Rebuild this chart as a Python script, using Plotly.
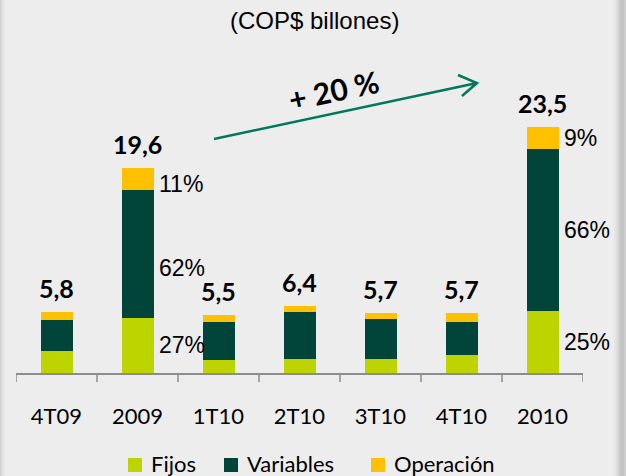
import plotly.graph_objects as go

categories = ["4T09", "2009", "1T10", "2T10", "3T10", "4T10", "2010"]
fijos = [2.1, 5.3, 1.2, 1.3, 1.3, 1.7, 5.9]
variables = [3.0, 12.2, 3.7, 4.5, 3.9, 3.2, 15.5]
operacion = [0.7, 2.1, 0.6, 0.6, 0.5, 0.8, 2.1]
totals = ["5,8", "19,6", "5,5", "6,4", "5,7", "5,7", "23,5"]
pct_labels = {"2009": ["27%", "62%", "11%"], "2010": ["25%", "66%", "9%"]}
series_names = ["Fijos", "Variables", "Operación"]

# layout-only tweaks
pct_yshift = {"2009": [0, -14, -5], "2010": [0, 0, 0]}
legend_x_px = [128, 224, 371]

C_FIJ = "#bdd400"
C_VAR = "#00443a"
C_OPE = "#ffc000"
colors = [C_FIJ, C_VAR, C_OPE]
BG = "#ededed"

W, H = 626, 476
L, R, T, B = 16, 43, 80, 103
PW, PH = W - L - R, H - T - B

def px(x):
    return (x - L) / PW

def py(y):
    return (H - B - y) / PH

fig = go.Figure()
for name, vals, col in zip(series_names, [fijos, variables, operacion], colors):
    fig.add_trace(go.Bar(x=list(range(len(categories))), y=vals, name=name,
                         marker=dict(color=col, line=dict(width=0)),
                         width=0.395, hoverinfo="skip", showlegend=False))

ann = []
for i, c in enumerate(categories):
    tot = fijos[i] + variables[i] + operacion[i]
    ann.append(dict(x=i, y=tot, text="<b>%s</b>" % totals[i], showarrow=False, yanchor="bottom", yshift=7,
                    font=dict(family="Lato", size=25, color="black")))
    if c in pct_labels:
        segs = [fijos[i], variables[i], operacion[i]]
        base = 0
        for s, lab, ys in zip(segs, pct_labels[c], pct_yshift[c]):
            ann.append(dict(x=i, y=base + s / 2, text=lab, showarrow=False, xanchor="left", xshift=19,
                            yshift=ys, font=dict(family="Liberation Sans", size=23, color="black")))
            base += s

ann.append(dict(xref="paper", yref="paper", x=px(314), y=py(21), yanchor="middle", text="(COP$ billones)",
                showarrow=False, font=dict(family="Liberation Sans", size=24, color="black")))
ann.append(dict(xref="paper", yref="paper", x=px(333), y=py(90), yanchor="middle", text="<b>+ 20 %</b>",
                showarrow=False, textangle=-12, font=dict(family="Lato", size=30, color="black")))

shapes = []
arrow_col = "#00785a"
shapes.append(dict(type="path", xref="paper", yref="paper",
                   path="M %f %f L %f %f M %f %f L %f %f L %f %f" % (
                       px(214), py(139), px(477), py(83),
                       px(458), py(75), px(477), py(83), px(462), py(96)),
                   line=dict(color=arrow_col, width=2.5)))

# manual legend
for name, col, lx in zip(series_names, colors, legend_x_px):
    shapes.append(dict(type="rect", xref="paper", yref="paper", x0=px(lx), x1=px(lx + 14),
                       y0=py(472), y1=py(458), fillcolor=col, line=dict(width=0)))
    ann.append(dict(xref="paper", yref="paper", x=px(lx + 21), y=py(463), xanchor="left", yanchor="middle",
                    text=name, showarrow=False, font=dict(family="Lato", size=22, color="black")))

# frame edge shading
edge_left = ["#d2d2d2", "#d9d9d9", "#dfdfdf", "#e4e4e4", "#e8e8e8", "#ebebeb"]
for k, col in enumerate(edge_left):
    shapes.append(dict(type="rect", xref="paper", yref="paper", x0=px(k), x1=px(k + 1), y0=py(H), y1=py(0),
                       fillcolor=col, line=dict(width=0), layer="below"))
edge_right = ["#ebebeb", "#e8e8e8", "#e4e4e4", "#dfdfdf", "#d9d9d9", "#d3d3d3", "#cdcdcd",
              "#c8c8c8", "#c4c4c4", "#c2c2c2", "#c6c6c6", "#cccccc", "#d4d4d4"]
for k, col in enumerate(edge_right):
    x0 = 613 + k
    shapes.append(dict(type="rect", xref="paper", yref="paper", x0=px(x0), x1=px(x0 + 1), y0=py(H), y1=py(0),
                       fillcolor=col, line=dict(width=0), layer="below"))

# tick marks at category boundaries
for k in range(len(categories) + 1):
    shapes.append(dict(type="line", xref="x", yref="paper", x0=k - 0.5, x1=k - 0.5, y0=0, y1=py(382),
                       line=dict(color="#8c8c8c", width=1.5)))

fig.update_layout(
    width=W, height=H, barmode="stack",
    margin=dict(l=L, r=R, t=T, b=B, pad=0, autoexpand=False),
    paper_bgcolor=BG, plot_bgcolor=BG,
    annotations=ann, shapes=shapes,
    showlegend=False,
    xaxis=dict(tickmode="array", tickvals=list(range(len(categories))), ticktext=categories,
               showline=True, linecolor="#8c8c8c", linewidth=1.5, ticks="", showgrid=False,
               tickfont=dict(family="Lato", size=22, color="black"), ticklabelstandoff=23,
               range=[-0.5, 6.5], zeroline=False, automargin=False),
    yaxis=dict(visible=False, range=[0, 28], showgrid=False, zeroline=False, automargin=False),
)

fig.write_html("out.html", config={"displayModeBar": False},
               post_script="document.body.style.margin='0';document.body.style.overflow='hidden';")
